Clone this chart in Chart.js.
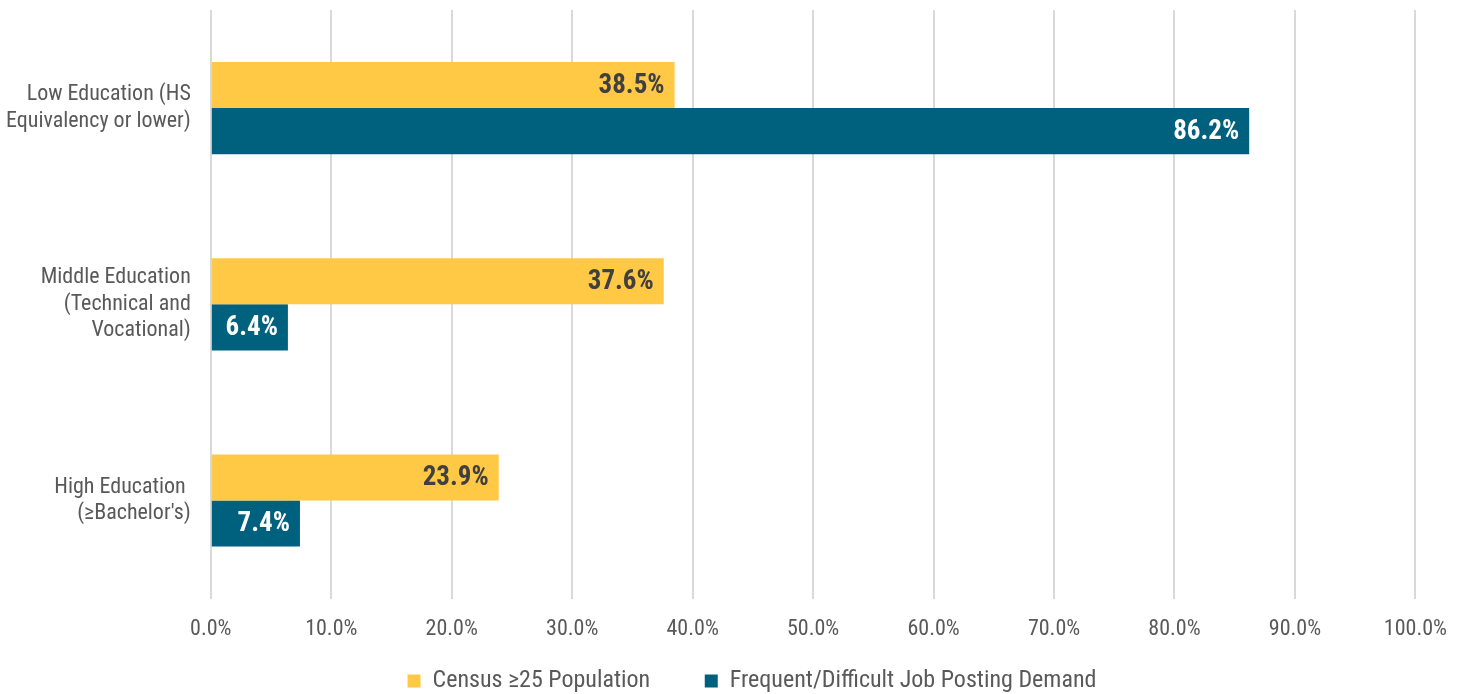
<!DOCTYPE html>
<html>
<head>
<meta charset="utf-8">
<script src="https://cdn.jsdelivr.net/npm/chart.js@4/dist/chart.umd.min.js"></script>
<style>
  html, body { margin: 0; padding: 0; background: #fff; }
  #wrap { width: 1465px; height: 694px; }
</style>
</head>
<body>
<div id="wrap"><canvas id="myChart"></canvas></div>
<script>
const categories = [
  ["Low Education (HS", "Equivalency or lower)"],
  ["Middle Education", "(Technical and", "Vocational)"],
  ["High Education ", "(≥Bachelor's)"],
];
const censusValues = [38.5, 37.6, 23.9];
const demandValues = [86.2, 6.4, 7.4];
const seriesNames = ["Census ≥25 Population", "Frequent/Difficult Job Posting Demand"];

const FONT = "'Roboto Condensed', Roboto, 'Liberation Sans Narrow', sans-serif";

// values drawn at the inner end of each bar
const barLabels = {
  id: "barLabels",
  afterDatasetsDraw(chart) {
    const c = chart.ctx;
    c.save();
    c.font = "bold 27px " + FONT;
    c.textAlign = "right";
    c.textBaseline = "middle";
    chart.data.datasets.forEach((ds, i) => {
      chart.getDatasetMeta(i).data.forEach((bar, j) => {
        c.fillStyle = i === 0 ? "#404040" : "#ffffff";
        c.fillText(ds.data[j].toFixed(1) + "%", bar.x - 10, bar.y + 1);
      });
    });
    c.restore();
  },
};

// nudge the legend a bit right, like the original
const legendShift = {
  id: "legendShift",
  afterLayout(chart) {
    chart.legend.left += 31;
    chart.legend.right += 31;
  },
};

function draw() {
  const ctx = document.getElementById("myChart");

  new Chart(ctx, {
    type: "bar",
    data: {
      labels: categories,
      datasets: [
        {
          label: seriesNames[0],
          data: censusValues,
          backgroundColor: "#FFC845",
          barPercentage: 1.0,
          categoryPercentage: 0.47,
        },
        {
          label: seriesNames[1],
          data: demandValues,
          backgroundColor: "#00617F",
          barPercentage: 1.0,
          categoryPercentage: 0.47,
        },
      ],
    },
    options: {
      indexAxis: "y",
      responsive: true,
      maintainAspectRatio: false,
      animation: false,
      layout: { padding: { top: 10, right: 29, left: 6, bottom: -9 } },
      scales: {
        x: {
          min: 0,
          max: 100,
          afterFit: (scale) => { scale.height += 3; },
          ticks: {
            stepSize: 10,
            callback: (v) => v.toFixed(1) + "%",
            color: "#595959",
            font: { family: FONT, size: 22 },
            padding: 18,
          },
          grid: { color: "#d9d9d9", lineWidth: 2, drawTicks: false },
          border: { display: false },
        },
        y: {
          afterFit: (scale) => {
            scale.paddingTop = 0;
            scale.paddingBottom = 0;
            scale.width -= 20;
          },
          ticks: {
            color: "#595959",
            font: { family: FONT, size: 22, lineHeight: 1.2 },
            padding: 20,
          },
          grid: { display: false, drawTicks: false },
          border: { display: false },
        },
      },
      plugins: {
        legend: {
          position: "bottom",
          labels: {
            boxWidth: 13,
            boxHeight: 13,
            padding: 5,
            color: "#595959",
            font: { family: FONT, size: 24 },
            generateLabels(chart) {
              const items = Chart.defaults.plugins.legend.labels.generateLabels(chart);
              items[0].text += "         ";
              return items;
            },
          },
        },
        tooltip: { enabled: false },
      },
    },
    plugins: [barLabels, legendShift],
  });
}

Promise.all([
  document.fonts.load("22px 'Roboto Condensed'"),
  document.fonts.load("bold 27px 'Roboto Condensed'"),
]).then(draw, draw);
</script>
</body>
</html>
